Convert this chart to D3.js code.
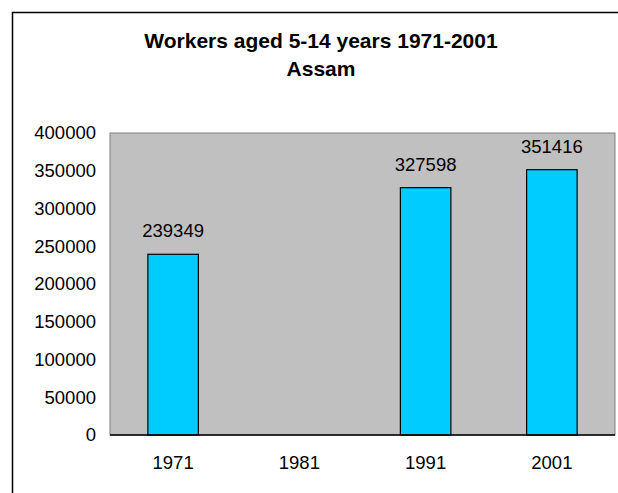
<!DOCTYPE html>
<html>
<head>
<meta charset="utf-8">
<script src="https://cdn.jsdelivr.net/npm/d3@7"></script>
<style>
  body { margin: 0; background: #fff; }
  svg { display: block; font-family: "Liberation Sans", Arial, sans-serif; }
  .tick text { font-size: 18.5px; fill: #000; }
</style>
</head>
<body>
<svg id="chart" width="618" height="493"></svg>
<script>
// data
const years = ['1971', '1981', '1991', '2001'];
const workers = [239349, null, 327598, 351416];
const yTicks = [0, 50000, 100000, 150000, 200000, 250000, 300000, 350000, 400000];
const titleLines = ['Workers aged 5-14 years 1971-2001', 'Assam'];

const plot = {left: 110, right: 615, top: 133, bottom: 435};

const svg = d3.select('#chart');

// outer chart frame (runs past the right and bottom edge)
svg.append('rect')
  .attr('x', 12.5).attr('y', 12.5)
  .attr('width', 700).attr('height', 600)
  .attr('fill', '#fff')
  .attr('stroke', '#000')
  .attr('stroke-width', 1.5);

const x = d3.scaleBand()
  .domain(years)
  .range([plot.left, plot.right])
  .paddingInner(0.6)
  .paddingOuter(0.3);

const y = d3.scaleLinear()
  .domain([0, 400000])
  .range([plot.bottom, plot.top]);

// plot area
svg.append('rect')
  .attr('x', plot.left).attr('y', plot.top)
  .attr('width', plot.right - plot.left)
  .attr('height', plot.bottom - plot.top)
  .attr('fill', '#c0c0c0')
  .attr('stroke', '#808080')
  .attr('stroke-width', 1);

const rows = years.map((d, i) => ({year: d, value: workers[i]}))
  .filter(d => d.value != null);

svg.selectAll('.bar')
  .data(rows)
  .enter().append('rect')
  .attr('class', 'bar')
  .attr('x', d => x(d.year))
  .attr('y', d => y(d.value))
  .attr('width', x.bandwidth())
  .attr('height', d => y(0) - y(d.value))
  .attr('fill', '#00ccff')
  .attr('stroke', '#000')
  .attr('stroke-width', 1.2);

svg.selectAll('.label')
  .data(rows)
  .enter().append('text')
  .attr('class', 'label')
  .attr('x', d => x(d.year) + x.bandwidth() / 2)
  .attr('y', d => y(d.value) - 17)
  .attr('text-anchor', 'middle')
  .style('font-size', '18.5px')
  .text(d => d.value);

// x axis line
svg.append('line')
  .attr('x1', plot.left).attr('x2', plot.right)
  .attr('y1', plot.bottom).attr('y2', plot.bottom)
  .attr('stroke', '#000')
  .attr('stroke-width', 1.5);

const yAxis = svg.append('g')
  .attr('transform', `translate(${plot.left},0)`)
  .call(d3.axisLeft(y).tickValues(yTicks).tickSize(0).tickPadding(14).tickFormat(d3.format('d')));
yAxis.select('.domain').remove();

const xAxis = svg.append('g')
  .attr('transform', `translate(0,${plot.bottom})`)
  .call(d3.axisBottom(x).tickSize(0).tickPadding(21));
xAxis.select('.domain').remove();

svg.selectAll('.title')
  .data(titleLines)
  .enter().append('text')
  .attr('class', 'title')
  .attr('x', 321)
  .attr('y', (d, i) => 48 + i * 28)
  .attr('text-anchor', 'middle')
  .style('font-size', '21px')
  .style('font-weight', 'bold')
  .text(d => d);
</script>
</body>
</html>
